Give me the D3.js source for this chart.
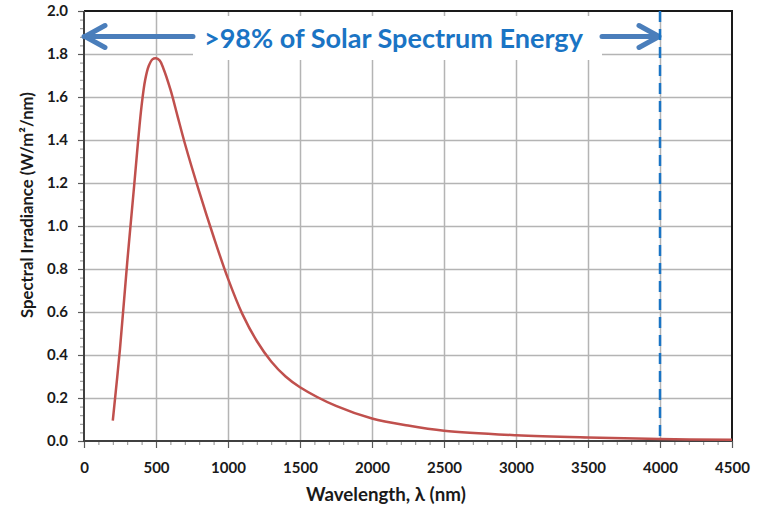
<!DOCTYPE html>
<html>
<head>
<meta charset="utf-8">
<script src="https://cdn.jsdelivr.net/npm/d3@7"></script>
<style>
  body { margin: 0; background: #fff; }
  svg { display: block; font-family: Lato, "Open Sans", sans-serif; }
</style>
</head>
<body>
<svg id="chart" width="765" height="508"></svg>
<script>
// spectrum
var wavelengths = [200, 250, 300, 350, 375, 400, 425, 450, 475, 500, 525, 550, 600, 650, 700, 800, 900, 1000,
  1100, 1200, 1300, 1400, 1500, 1750, 2000, 2250, 2500, 3000, 3500, 4000, 4500];
var irradiance = [0.095, 0.43, 0.83, 1.20, 1.39, 1.56, 1.68, 1.745, 1.775, 1.78, 1.77, 1.735, 1.635, 1.51, 1.385, 1.16, 0.95, 0.755,
  0.59, 0.465, 0.37, 0.30, 0.25, 0.163, 0.105, 0.072, 0.048, 0.027, 0.016, 0.009, 0.006];

var xTicks = [0, 500, 1000, 1500, 2000, 2500, 3000, 3500, 4000, 4500];
var yTicks = [0.0, 0.2, 0.4, 0.6, 0.8, 1.0, 1.2, 1.4, 1.6, 1.8, 2.0];
var cutoff = 4000;
var banner = ">98% of Solar Spectrum Energy";

var svg = d3.select("#chart");
var pl = 84, pr = 732, pt = 11, pb = 441;

var x = d3.scaleLinear().domain([0, 4500]).range([pl, pr]);
var y = d3.scaleLinear().domain([0, 2]).range([pb, pt]);

// grid
svg.append("g")
  .attr("transform", "translate(0," + pb + ")")
  .call(d3.axisBottom(x).tickValues(xTicks.slice(1, -1)).tickSize(-(pb - pt)).tickFormat(""))
  .call(function(g) {
    g.select(".domain").remove();
    g.selectAll("line").attr("stroke", "#b4b4b4").attr("stroke-width", 1.5);
  });
svg.append("g")
  .attr("transform", "translate(" + pl + ",0)")
  .call(d3.axisLeft(y).tickValues(yTicks.slice(1, -1)).tickSize(-(pr - pl)).tickFormat(""))
  .call(function(g) {
    g.select(".domain").remove();
    g.selectAll("line").attr("stroke", "#b4b4b4").attr("stroke-width", 1.5);
  });

// minor ticks
svg.append("g")
  .attr("transform", "translate(0," + pb + ")")
  .call(d3.axisBottom(x).tickValues(d3.range(0, 4501, 100)).tickSize(4).tickFormat(""))
  .call(function(g) {
    g.select(".domain").remove();
    g.selectAll("line").attr("stroke", "#8c8c8c").attr("stroke-width", 1);
  });
svg.append("g")
  .attr("transform", "translate(" + pl + ",0)")
  .call(d3.axisLeft(y).tickValues(d3.range(0, 2.001, 0.04)).tickSize(4).tickFormat(""))
  .call(function(g) {
    g.select(".domain").remove();
    g.selectAll("line").attr("stroke", "#8c8c8c").attr("stroke-width", 1);
  });

// major ticks + labels
svg.append("g")
  .attr("transform", "translate(0," + pb + ")")
  .call(d3.axisBottom(x).tickValues(xTicks).tickSize(7).tickPadding(14).tickFormat(d3.format("d")))
  .call(function(g) {
    g.select(".domain").remove();
    g.selectAll("line").attr("stroke", "#595959").attr("stroke-width", 1.2);
    g.selectAll("text").attr("fill", "#1a1a1a").attr("font-size", 15).attr("font-weight", "bold")
      .attr("font-family", "Lato, sans-serif");
  });
svg.append("g")
  .attr("transform", "translate(" + pl + ",0)")
  .call(d3.axisLeft(y).tickValues(yTicks).tickSize(6).tickPadding(10).tickFormat(d3.format(".1f")))
  .call(function(g) {
    g.select(".domain").remove();
    g.selectAll("line").attr("stroke", "#595959").attr("stroke-width", 1.2);
    g.selectAll("text").attr("fill", "#1a1a1a").attr("font-size", 15).attr("font-weight", "bold")
      .attr("font-family", "Lato, sans-serif");
  });

// frame
svg.append("path")
  .attr("d", "M" + pl + "," + pt + "H" + pr + "V" + pb)
  .attr("fill", "none").attr("stroke", "#1a1a1a").attr("stroke-width", 2);
svg.append("path")
  .attr("d", "M" + pl + "," + pt + "V" + pb + "H" + pr)
  .attr("fill", "none").attr("stroke", "#404040").attr("stroke-width", 2);

// banner box with arrows
svg.append("rect")
  .attr("x", 193).attr("y", 16).attr("width", 409).attr("height", 44)
  .attr("fill", "#fff");

var txt = svg.append("text")
  .attr("x", 204).attr("y", 47.5)
  .attr("fill", "#1a74c4")
  .attr("font-size", 26)
  .attr("font-family", "Lato, sans-serif")
  .attr("font-weight", "bold")
  .text(banner);
fitWidth(txt, 379);

var arrowCol = "#4a7ebb";
var ay = 36.5;
svg.append("path")
  .attr("d", "M193," + ay + "H" + x(0) + "M" + (x(0) + 21) + "," + (ay - 11) + "L" + (x(0) + 1) + "," + ay +
    "L" + (x(0) + 21) + "," + (ay + 11))
  .attr("fill", "none").attr("stroke", arrowCol).attr("stroke-width", 5)
  .attr("stroke-linecap", "round").attr("stroke-linejoin", "round");
svg.append("path")
  .attr("d", "M602," + ay + "H" + (x(cutoff) - 2) + "M" + (x(cutoff) - 21) + "," + (ay - 11) + "L" + (x(cutoff) - 1) + "," + ay +
    "L" + (x(cutoff) - 21) + "," + (ay + 11))
  .attr("fill", "none").attr("stroke", arrowCol).attr("stroke-width", 5)
  .attr("stroke-linecap", "round").attr("stroke-linejoin", "round");

// cutoff line
svg.append("line")
  .attr("x1", x(cutoff)).attr("x2", x(cutoff))
  .attr("y1", pt).attr("y2", pb)
  .attr("stroke", "#1a74c4").attr("stroke-width", 2.5)
  .attr("stroke-dasharray", "11,7");

// spectrum curve
var pts = wavelengths.map(function(w, i) { return [w, irradiance[i]]; });
var line = d3.line()
  .x(function(d) { return x(d[0]); })
  .y(function(d) { return y(d[1]); })
  .curve(d3.curveCatmullRom.alpha(0.5));
svg.append("path")
  .datum(pts)
  .attr("d", line)
  .attr("fill", "none")
  .attr("stroke", "#c0504d")
  .attr("stroke-width", 2.5);

// axis titles
var xt = svg.append("text")
  .attr("x", 386).attr("y", 501)
  .attr("text-anchor", "middle")
  .attr("fill", "#1a1a1a")
  .attr("font-size", 16).attr("font-weight", "bold")
  .attr("font-family", "Lato, sans-serif")
  .text("Wavelength, \u03bb (nm)");
fitWidth(xt, 160);

var yt = svg.append("text")
  .attr("transform", "translate(33,205) rotate(-90)")
  .attr("text-anchor", "middle")
  .attr("fill", "#1a1a1a")
  .attr("font-size", 15).attr("font-weight", "bold")
  .attr("font-family", "Lato, sans-serif")
  .text("Spectral Irradiance (W/m\u00b2/nm)");
fitWidth(yt, 226);

function fitWidth(sel, w) {
  var fs = +sel.attr("font-size");
  var len = sel.node().getComputedTextLength();
  if (len > 0) sel.attr("font-size", (fs * w / len).toFixed(2));
}
</script>
</body>
</html>
